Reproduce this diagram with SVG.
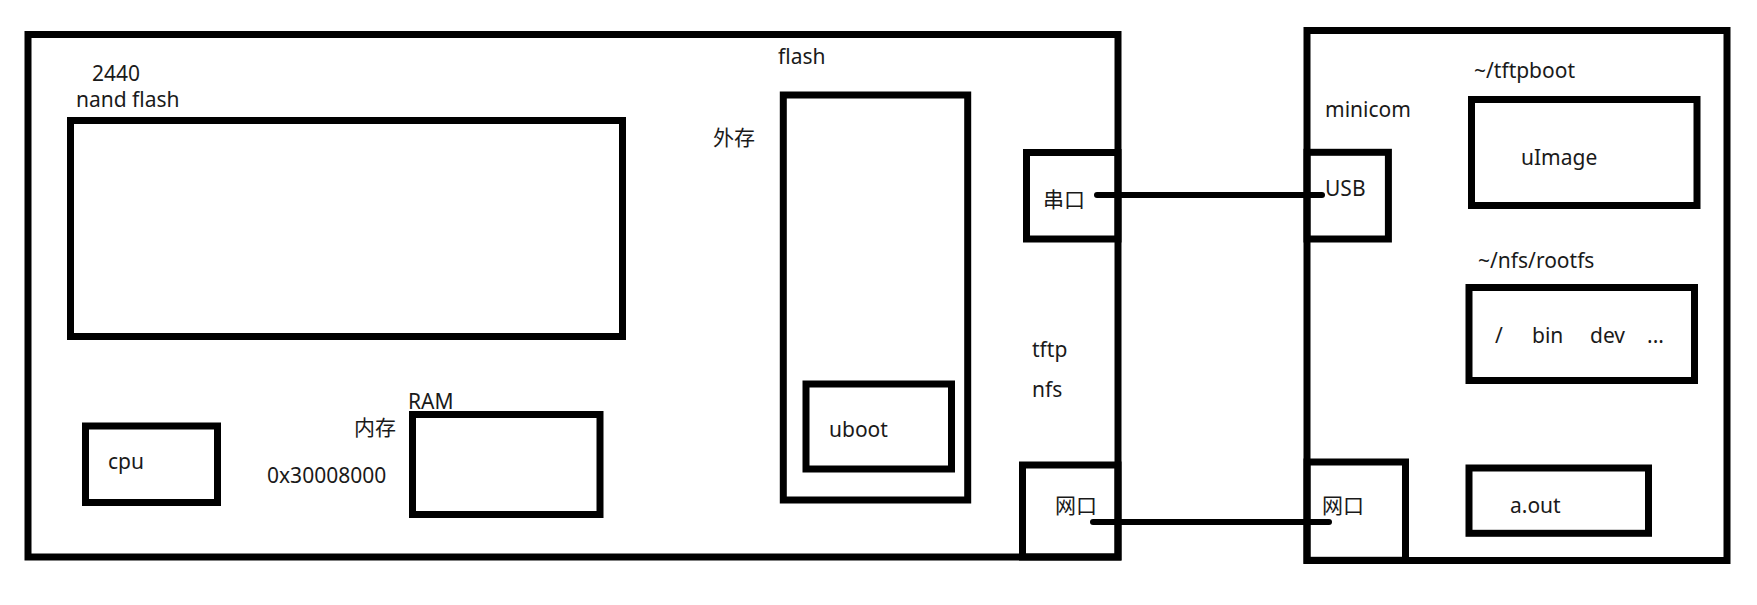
<svg xmlns="http://www.w3.org/2000/svg" width="1757" height="605" viewBox="0 0 1757 605">
<style>
.box{fill:none;stroke:#000;stroke-width:7}
.t{font-family:"Noto Sans","Noto Sans CJK SC",sans-serif;font-size:21px;fill:#1a1a1a}
.c{stroke:#000;stroke-width:6;stroke-linecap:round;fill:none}
</style>
<rect width="1757" height="605" fill="#fff"/>
<g id="board">
<rect class="box" x="28" y="34.5" width="1090" height="522.5"/>
<text class="t" x="92" y="81">2440</text>
<text class="t" x="76" y="107">nand flash</text>
</g>
<g id="nand"><rect class="box" x="70.5" y="120.5" width="552" height="216"/></g>
<g id="cpu"><rect class="box" x="85.5" y="426" width="132" height="76.5"/><text class="t" x="108" y="469">cpu</text></g>
<g id="ram">
<rect class="box" x="412.5" y="414.5" width="187.5" height="100"/>
<text class="t" x="408" y="409">RAM</text>
<text class="t" x="354" y="435">内存</text>
<text class="t" x="267" y="483">0x30008000</text>
</g>
<g id="flash">
<rect class="box" x="783.3" y="95" width="184.4" height="405"/>
<text class="t" x="778" y="64">flash</text>
<text class="t" x="713" y="145">外存</text>
</g>
<g id="uboot"><rect class="box" x="806" y="384" width="145.5" height="85"/><text class="t" x="829" y="437">uboot</text></g>
<g id="serial"><rect class="box" x="1026.5" y="152.5" width="91.5" height="86.5"/><text class="t" x="1043" y="207">串口</text></g>
<g id="protocols"><text class="t" x="1032" y="357">tftp</text><text class="t" x="1032" y="397">nfs</text></g>
<g id="eth-board"><rect class="box" x="1022.5" y="465" width="95.5" height="92"/><text class="t" x="1055" y="513">网口</text></g>
<g id="host">
<rect class="box" x="1307" y="30.5" width="420" height="530"/>
<text class="t" x="1325" y="117">minicom</text>
</g>
<g id="usb"><rect class="box" x="1307" y="152.3" width="81.4" height="86.7"/><text class="t" x="1325" y="196">USB</text></g>
<g id="tftpboot">
<text class="t" x="1474" y="78">~/tftpboot</text>
<rect class="box" x="1471.5" y="99.5" width="225.5" height="106"/>
<text class="t" x="1521" y="165">uImage</text>
</g>
<g id="rootfs">
<text class="t" x="1478" y="268">~/nfs/rootfs</text>
<rect class="box" x="1469" y="287.5" width="225.5" height="93"/>
<text class="t" y="343"><tspan x="1495">/</tspan><tspan x="1532">bin</tspan><tspan x="1590">dev</tspan><tspan x="1647">...</tspan></text>
</g>
<g id="eth-host"><rect class="box" x="1307" y="462" width="98.5" height="98.3"/><text class="t" x="1322" y="513">网口</text></g>
<g id="aout"><rect class="box" x="1469" y="468" width="179.5" height="65.3"/><text class="t" x="1510" y="513">a.out</text></g>
<g id="connectors">
<line class="c" x1="1097" y1="195" x2="1322" y2="195"/>
<line class="c" x1="1093" y1="522" x2="1329" y2="522"/>
</g>
</svg>
